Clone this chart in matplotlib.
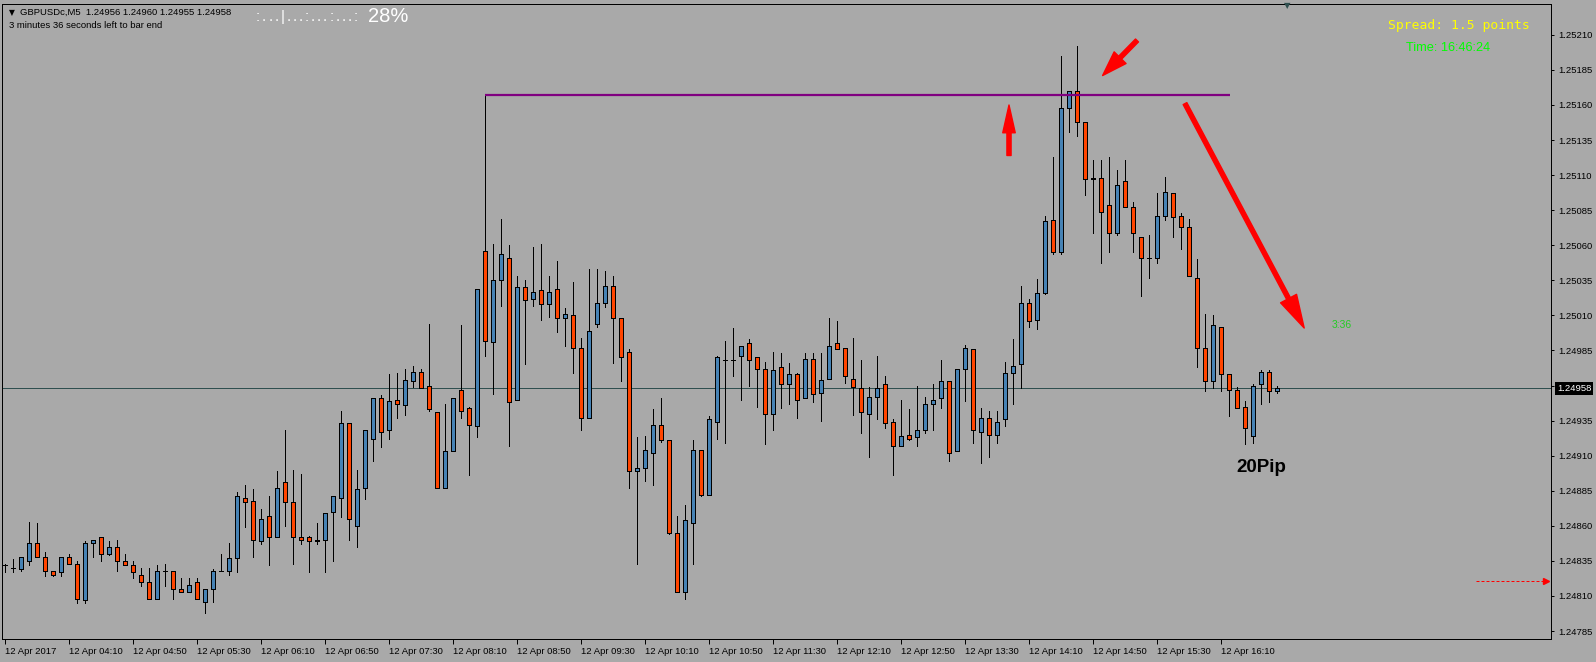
import matplotlib
matplotlib.use("Agg")
import matplotlib.pyplot as plt
from matplotlib.patches import FancyArrowPatch
import matplotlib.transforms as mtrans
import numpy as np

# ---------------- data (GBPUSDc, M5, 12 Apr 2017) ----------------
opens = [
    1.24832, 1.24830, 1.24829, 1.24835, 1.24848, 1.24838, 1.24828, 1.24827, 1.24838, 1.24833,
    1.24807, 1.24848, 1.24852, 1.24840, 1.24845, 1.24835, 1.24832, 1.24825, 1.24820, 1.24808,
    1.24828, 1.24828, 1.24815, 1.24813, 1.24820, 1.24806, 1.24815, 1.24828, 1.24828, 1.24837,
    1.24880, 1.24878, 1.24849, 1.24867, 1.24852, 1.24891, 1.24877, 1.24852, 1.24852, 1.24849,
    1.24850, 1.24870, 1.24880, 1.24933, 1.24860, 1.24887, 1.24922, 1.24951, 1.24928, 1.24950,
    1.24946, 1.24963, 1.24970, 1.24960, 1.24941, 1.24887, 1.24913, 1.24957, 1.24944, 1.24931,
    1.25056, 1.24991, 1.25035, 1.25051, 1.24950, 1.25030, 1.25022, 1.25028, 1.25018, 1.25029,
    1.25008, 1.25010, 1.24987, 1.24937, 1.25004, 1.25019, 1.25031, 1.25008, 1.24984, 1.24899,
    1.24901, 1.24912, 1.24932, 1.24921, 1.24855, 1.24813, 1.24862, 1.24914, 1.24882, 1.24934,
    1.24978, 1.24978, 1.24981, 1.24990, 1.24980, 1.24972, 1.24940, 1.24973, 1.24961, 1.24968,
    1.24951, 1.24979, 1.24955, 1.24965, 1.24990, 1.24987, 1.24965, 1.24958, 1.24940, 1.24952,
    1.24961, 1.24934, 1.24917, 1.24925, 1.24923, 1.24928, 1.24947, 1.24951, 1.24963, 1.24913,
    1.24972, 1.24986, 1.24927, 1.24937, 1.24925, 1.24936, 1.24969, 1.24975, 1.25019, 1.25007,
    1.25026, 1.25078, 1.25055, 1.25158, 1.25170, 1.25148, 1.25107, 1.25108, 1.25089, 1.25069,
    1.25106, 1.25087, 1.25066, 1.25051, 1.25051, 1.25081, 1.25097, 1.25081, 1.25073, 1.25037,
    1.24987, 1.24963, 1.25002, 1.24968, 1.24957, 1.24945, 1.24924, 1.24961, 1.24970, 1.24956,
]
highs = [
    1.24833, 1.24836, 1.24838, 1.24863, 1.24862, 1.24841, 1.24828, 1.24838, 1.24840, 1.24835,
    1.24849, 1.24850, 1.24852, 1.24849, 1.24850, 1.24840, 1.24835, 1.24830, 1.24830, 1.24832,
    1.24833, 1.24828, 1.24823, 1.24823, 1.24823, 1.24815, 1.24829, 1.24840, 1.24848, 1.24884,
    1.24889, 1.24886, 1.24872, 1.24881, 1.24899, 1.24928, 1.24900, 1.24897, 1.24853, 1.24862,
    1.24869, 1.24881, 1.24942, 1.24933, 1.24900, 1.24928, 1.24951, 1.24953, 1.24968, 1.24969,
    1.24972, 1.24974, 1.24972, 1.25004, 1.24941, 1.24947, 1.24951, 1.25003, 1.24945, 1.25029,
    1.25167, 1.25061, 1.25079, 1.25060, 1.25038, 1.25035, 1.25059, 1.25061, 1.25038, 1.25049,
    1.25015, 1.25034, 1.24994, 1.25043, 1.25043, 1.25042, 1.25038, 1.25008, 1.24986, 1.24923,
    1.24924, 1.24943, 1.24951, 1.24921, 1.24867, 1.24875, 1.24921, 1.24914, 1.24938, 1.24981,
    1.24992, 1.25001, 1.24988, 1.24993, 1.24980, 1.24977, 1.24984, 1.24983, 1.24976, 1.24969,
    1.24983, 1.24983, 1.24983, 1.25008, 1.25006, 1.24987, 1.24994, 1.24978, 1.24959, 1.24981,
    1.24967, 1.24936, 1.24950, 1.24943, 1.24960, 1.24952, 1.24961, 1.24978, 1.24963, 1.24972,
    1.24989, 1.24986, 1.24944, 1.24942, 1.24942, 1.24977, 1.24993, 1.25031, 1.25022, 1.25036,
    1.25081, 1.25123, 1.25195, 1.25170, 1.25202, 1.25148, 1.25121, 1.25121, 1.25123, 1.25114,
    1.25121, 1.25091, 1.25066, 1.25067, 1.25097, 1.25109, 1.25097, 1.25083, 1.25079, 1.25050,
    1.25011, 1.25010, 1.25002, 1.24968, 1.24959, 1.24949, 1.24961, 1.24971, 1.24971, 1.24960,
]
lows = [
    1.24827, 1.24827, 1.24828, 1.24832, 1.24838, 1.24824, 1.24824, 1.24824, 1.24833, 1.24805,
    1.24805, 1.24838, 1.24835, 1.24839, 1.24828, 1.24832, 1.24823, 1.24817, 1.24808, 1.24808,
    1.24817, 1.24808, 1.24813, 1.24813, 1.24808, 1.24798, 1.24806, 1.24828, 1.24825, 1.24827,
    1.24859, 1.24838, 1.24847, 1.24832, 1.24852, 1.24860, 1.24833, 1.24847, 1.24827, 1.24847,
    1.24827, 1.24835, 1.24866, 1.24850, 1.24845, 1.24879, 1.24906, 1.24916, 1.24922, 1.24937,
    1.24939, 1.24959, 1.24958, 1.24942, 1.24887, 1.24887, 1.24913, 1.24937, 1.24896, 1.24923,
    1.24981, 1.24954, 1.25017, 1.24917, 1.24950, 1.24975, 1.25017, 1.25007, 1.25009, 1.24998,
    1.24988, 1.24969, 1.24928, 1.24937, 1.25002, 1.25016, 1.24976, 1.24963, 1.24887, 1.24833,
    1.24892, 1.24889, 1.24920, 1.24854, 1.24813, 1.24808, 1.24833, 1.24881, 1.24882, 1.24922,
    1.24919, 1.24967, 1.24950, 1.24960, 1.24945, 1.24918, 1.24928, 1.24944, 1.24947, 1.24937,
    1.24951, 1.24948, 1.24935, 1.24965, 1.24986, 1.24962, 1.24939, 1.24926, 1.24909, 1.24936,
    1.24930, 1.24896, 1.24917, 1.24921, 1.24917, 1.24926, 1.24928, 1.24944, 1.24906, 1.24913,
    1.24949, 1.24919, 1.24905, 1.24909, 1.24919, 1.24931, 1.24947, 1.24958, 1.25002, 1.25000,
    1.25025, 1.25054, 1.25054, 1.25141, 1.25138, 1.25096, 1.25069, 1.25047, 1.25055, 1.25067,
    1.25087, 1.25055, 1.25024, 1.25037, 1.25047, 1.25078, 1.25066, 1.25057, 1.25038, 1.24973,
    1.24956, 1.24958, 1.24956, 1.24938, 1.24944, 1.24918, 1.24919, 1.24947, 1.24948, 1.24955,
]
closes = [
    1.24832, 1.24830, 1.24838, 1.24848, 1.24838, 1.24828, 1.24825, 1.24838, 1.24833, 1.24808,
    1.24848, 1.24850, 1.24840, 1.24845, 1.24835, 1.24832, 1.24827, 1.24820, 1.24808, 1.24828,
    1.24828, 1.24815, 1.24813, 1.24818, 1.24808, 1.24815, 1.24828, 1.24828, 1.24837, 1.24881,
    1.24877, 1.24850, 1.24865, 1.24852, 1.24887, 1.24877, 1.24852, 1.24850, 1.24849, 1.24850,
    1.24869, 1.24881, 1.24933, 1.24865, 1.24886, 1.24928, 1.24951, 1.24927, 1.24949, 1.24947,
    1.24964, 1.24970, 1.24958, 1.24943, 1.24887, 1.24913, 1.24951, 1.24942, 1.24932, 1.25029,
    1.24992, 1.25035, 1.25054, 1.24948, 1.25030, 1.25021, 1.25027, 1.25018, 1.25027, 1.25008,
    1.25011, 1.24987, 1.24937, 1.24999, 1.25019, 1.25031, 1.25008, 1.24980, 1.24899, 1.24901,
    1.24914, 1.24932, 1.24921, 1.24855, 1.24813, 1.24864, 1.24914, 1.24882, 1.24936, 1.24980,
    1.24978, 1.24978, 1.24988, 1.24978, 1.24972, 1.24940, 1.24971, 1.24961, 1.24968, 1.24950,
    1.24979, 1.24954, 1.24964, 1.24988, 1.24986, 1.24967, 1.24959, 1.24941, 1.24952, 1.24958,
    1.24933, 1.24917, 1.24924, 1.24922, 1.24928, 1.24947, 1.24950, 1.24963, 1.24912, 1.24972,
    1.24987, 1.24928, 1.24937, 1.24925, 1.24934, 1.24969, 1.24974, 1.25019, 1.25006, 1.25026,
    1.25077, 1.25055, 1.25158, 1.25170, 1.25148, 1.25107, 1.25108, 1.25084, 1.25069, 1.25103,
    1.25087, 1.25069, 1.25051, 1.25051, 1.25081, 1.25098, 1.25080, 1.25073, 1.25038, 1.24987,
    1.24963, 1.25003, 1.24968, 1.24957, 1.24944, 1.24930, 1.24960, 1.24970, 1.24956, 1.24958,
]
time_labels = [
    "12 Apr 2017", "12 Apr 04:10", "12 Apr 04:50", "12 Apr 05:30", "12 Apr 06:10",
    "12 Apr 06:50", "12 Apr 07:30", "12 Apr 08:10", "12 Apr 08:50", "12 Apr 09:30",
    "12 Apr 10:10", "12 Apr 10:50", "12 Apr 11:30", "12 Apr 12:10", "12 Apr 12:50",
    "12 Apr 13:30", "12 Apr 14:10", "12 Apr 14:50", "12 Apr 15:30", "12 Apr 16:10",
]
price_ticks = [1.24785, 1.24810, 1.24835, 1.24860, 1.24885, 1.24910, 1.24935, 1.24960,
               1.24985, 1.25010, 1.25035, 1.25060, 1.25085, 1.25110, 1.25135, 1.25160,
               1.25185, 1.25210]
bid_price = 1.24958
resistance = 1.25167
header = "GBPUSDc,M5  1.24956 1.24960 1.24955 1.24958"
progress_marks = ":...|...:...:...:"

# ---------------- styling ----------------
W, H = 1596, 662
BG = "#A9A9A9"
UP = "#4682B4"
DOWN = "#FF4500"
PX = 0.72  # one pixel in points at dpi 100
SANS = ["Liberation Sans", "DejaVu Sans"]

fig = plt.figure(figsize=(W / 100, H / 100), dpi=100, facecolor=BG)
ax = fig.add_axes([2 / W, (H - 639) / H, (1551 - 2) / W, (639 - 4) / H])
ax.set_facecolor(BG)
ax.set_xlim(-0.375, 193.25)
ax.set_ylim(1.247793, 1.252320)
for s in ax.spines.values():
    s.set_color("black")
    s.set_linewidth(PX)

o = np.array(opens); h = np.array(highs); l = np.array(lows); c = np.array(closes)
x = np.arange(len(o))
cols = [UP if cc > oo else DOWN for oo, cc in zip(o, c)]

# current bid line
ax.axhline(bid_price, color="#2F4F4F", lw=PX, zorder=1)

# wicks and bodies
ax.vlines(x, l, h, color="black", lw=PX, zorder=2, antialiased=False)
ax.bar(x, np.abs(c - o), bottom=np.minimum(o, c), width=0.6, color=cols,
       edgecolor="black", linewidth=PX, zorder=3, antialiased=False)

# resistance line (from the spike high)
ax.hlines(resistance, 60, 153.1, color="#800080", lw=1.6, zorder=4)

# red arrows
def arrow(p0, p1, hl=20, hw=10, tw=3):
    a = FancyArrowPatch(p0, p1, arrowstyle=f"simple,head_length={hl},head_width={hw},tail_width={tw}",
                        mutation_scale=1, color="#FF0000", shrinkA=0, shrinkB=0, zorder=6)
    ax.add_patch(a)

arrow((125.5, 1.25124), (125.5, 1.25160), hl=20, hw=9, tw=3)
arrow((141.5, 1.25206), (137.2, 1.25181), hl=18, hw=12, tw=3)
arrow((147.5, 1.25161), (162.4, 1.25001), hl=24, hw=13, tw=3)

# dashed red arrow near right edge
ax.plot([183.9, 192.4], [1.24821, 1.24821], color="#FF0000", lw=PX, ls=(0, (3, 2)), zorder=5)
ax.plot([192.6], [1.24821], marker=">", ms=4, color="#FF0000", mec="#FF0000", zorder=5)

# axes ticks
ax.set_xticks(x[::8])
ax.set_xticklabels(time_labels, fontsize=6.8, family=SANS)
for t in ax.get_xticklabels():
    t.set_horizontalalignment("left")
ax.tick_params(axis="x", direction="out", length=3.5, width=PX, pad=2.5, colors="black")
ax.yaxis.tick_right()
ax.set_yticks(price_ticks)
ax.set_yticklabels([f"{p:.5f}" for p in price_ticks], fontsize=6.8, family=SANS)
ax.tick_params(axis="y", direction="out", length=2.5, width=PX, pad=2.5, colors="black")

# bid label on price scale
ax.text(1.0, bid_price, f"{bid_price:.5f}",
        transform=mtrans.blended_transform_factory(ax.transAxes, ax.transData) +
        mtrans.ScaledTranslation(6 / 100, 0, fig.dpi_scale_trans),
        ha="left", va="center", color="white", fontsize=6.8, family=SANS, zorder=10,
        bbox=dict(facecolor="black", edgecolor="none", pad=1.2))

def ftext(px, py, s, **kw):
    fig.text(px / W, 1 - py / H, s, **kw)

# header info
ftext(9, 12.5, "\u25BC", fontsize=5.5, family=["DejaVu Sans"], va="center", ha="left")
ftext(20, 12.5, header, fontsize=6.8, family=SANS, va="center", ha="left")
ftext(9, 25, "3 minutes 36 seconds left to bar end", fontsize=6.8, family=SANS, va="center", ha="left")
for k, ch in enumerate(progress_marks):
    ftext(258 + k * 6.1, 17, ch, fontsize=11, family=SANS, va="center", ha="center", color="white")
ftext(368, 17, "28%", fontsize=14.5, family=SANS, va="center", ha="left", color="white")

# spread / time
ftext(1388, 26, "Spread: 1.5 points", fontsize=9.4, family=["DejaVu Sans Mono"],
      va="center", ha="left", color="#FFFF00")
ftext(1406, 48, "Time: 16:46:24", fontsize=9.2, family=SANS, va="center", ha="left", color="#00FF00")
ftext(1332, 325, "3:36", fontsize=7.5, family=SANS, va="center", ha="left", color="#22CC22")
ftext(1236, 468, "20Pip", fontsize=13.5, family=SANS, weight="bold", va="center", ha="left", color="black")

# chart shift marker
ftext(1287, 6, "\u25BC", fontsize=6, family=["DejaVu Sans"], va="center", ha="center", color="#2F4F4F")

fig.savefig("out.png", dpi=100, facecolor=BG)
